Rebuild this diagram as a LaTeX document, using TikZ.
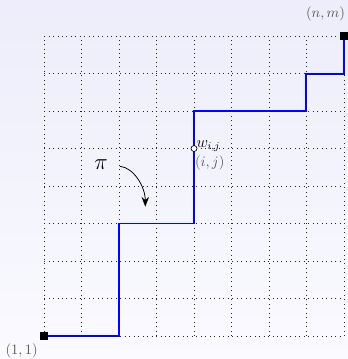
\documentclass[tikz,border=0pt,11pt]{standalone}
\usepackage{amsmath, amssymb}
\usepackage{tikz}
\usetikzlibrary{positioning, arrows.meta}

\begin{document}
\begin{tikzpicture}[
    gridline/.style={
        black!85,
        line width=0.6pt,
        dash pattern=on 0.6pt off 2.8pt
    },
    lattice/.style={
        blue,
        line width=1.5pt
    },
    corner/.style={
        rectangle,
        fill=black,
        inner sep=0pt,
        minimum size=0.22cm
    },
    point/.style={
        circle,
        draw=black,
        fill=white,
        line width=0.5pt,
        inner sep=0pt,
        minimum size=0.16cm
    },
    coord/.style={
        text=black!65,
        inner sep=1pt
    },
    arrow/.style={
        semithick,
        -{Stealth[length=2.6mm, width=2mm]}
    }
]

% Background
\shade[top color={rgb,255:red,237;green,237;blue,251}, bottom color={rgb,255:red,250;green,250;blue,255}]
    (-1.176,-0.615) rectangle (8.107,8.963);
\useasboundingbox (-1.176,-0.615) rectangle (8.107,8.963);

% Grid
\draw[gridline] (0,0) grid (8,8);

% Corners of the lattice
\coordinate (start) at (0,0);
\coordinate (finish) at (8,8);
\coordinate (cell) at (4,5);

% Path pi
\draw[lattice] (start) -| (2,3) -| (4,6) -| (7,7) -| (finish);

\node[corner] (s) at (start) {};
\node[corner] (f) at (finish) {};
\node[point] (w) at (cell) {};

% Labels
\node[coord] (startlabel) at (-0.60,-0.40) {$(1,1)$};
\node[coord] (finishlabel) at (7.51,8.58) {$(n,m)$};
\node[font=\large, anchor=base west, inner sep=0pt] (weight) at (4.06,5.04) {$w_{i,j}$};
\node[coord, anchor=west, inner sep=0pt] (ij) at (4.02,4.63) {$(i,j)$};

% pi with arrow
\node[font=\LARGE] (pi) at (1.52,4.57) {$\pi$};
\coordinate (pitip) at (2.70,3.45);
\draw[arrow, shorten <=1.9mm] (pi) to[out=-5, in=90] (pitip);

\end{tikzpicture}
\end{document}
